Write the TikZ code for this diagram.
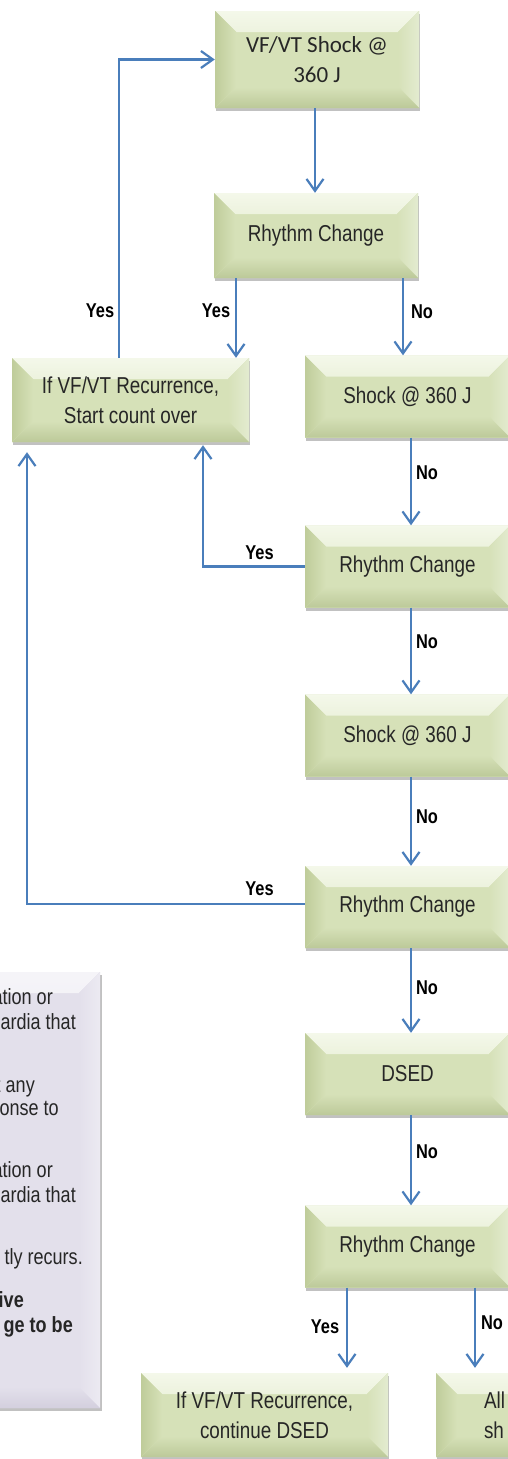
\documentclass[tikz,border=0pt]{standalone}
\usepackage{fontspec}
\newfontfamily\narrow[FakeStretch=0.82]{Liberation Sans}
\newfontfamily\calib{Carlito}
\usetikzlibrary{arrows.meta,shadows}
\definecolor{gmid}{HTML}{D6E1B8}
\definecolor{gtop}{HTML}{F4F8EA}
\definecolor{gleft}{HTML}{BFCC9A}
\definecolor{gbot}{HTML}{BCC999}
\definecolor{gright}{HTML}{E3EBD0}
\definecolor{lmid}{HTML}{E3E0EB}
\definecolor{ltop}{HTML}{F5F4F8}
\definecolor{lright}{HTML}{ECEAF2}
\definecolor{lbot}{HTML}{D3CFDE}
\definecolor{lleft}{HTML}{D6D2E0}
\definecolor{arrc}{HTML}{4A7EBB}
\newcommand\bevelpaint[5]{%
  \def\bw{21pt}%
  \fill[top color=#1,bottom color=#5] (path picture bounding box.north west) -- (path picture bounding box.north east) -- ([shift={(-\bw,-\bw)}]path picture bounding box.north east) -- ([shift={(\bw,-\bw)}]path picture bounding box.north west) -- cycle;
  \fill[left color=#5,right color=#2] (path picture bounding box.north east) -- (path picture bounding box.south east) -- ([shift={(-\bw,\bw)}]path picture bounding box.south east) -- ([shift={(-\bw,-\bw)}]path picture bounding box.north east) -- cycle;
  \fill[top color=#5,bottom color=#3] (path picture bounding box.south west) -- ([shift={(\bw,\bw)}]path picture bounding box.south west) -- ([shift={(-\bw,\bw)}]path picture bounding box.south east) -- (path picture bounding box.south east) -- cycle;
  \fill[left color=#4,right color=#5] (path picture bounding box.north west) -- ([shift={(\bw,-\bw)}]path picture bounding box.north west) -- ([shift={(\bw,\bw)}]path picture bounding box.south west) -- (path picture bounding box.south west) -- cycle;
}
\tikzset{
  gbox/.style={rectangle, inner sep=0pt, minimum width=205pt, minimum height=82pt,
    align=center, fill=gmid, text=black!85,
    font=\narrow\fontsize{23}{30}\selectfont,
    drop shadow={shadow xshift=0.5pt, shadow yshift=-3pt, opacity=0.4, fill=black!60},
    path picture={\bevelpaint{gtop}{gright}{gbot}{gleft}{gmid}}},
  nbox/.style={rectangle, inner sep=0pt, fill=lmid,
    drop shadow={shadow xshift=1.5pt, shadow yshift=-3pt, opacity=0.4, fill=black!60},
    path picture={\bevelpaint{ltop}{lright}{lbot}{lleft}{lmid}}},
  ntxt/.style={inner sep=0pt, text=black!85, font=\narrow\fontsize{22}{25}\selectfont},
  nbold/.style={ntxt, font=\narrow\bfseries\fontsize{22}{25}\selectfont},
  lbl/.style={inner sep=0pt, text=black, font=\narrow\bfseries\fontsize{20}{24}\selectfont},
  arr/.style={draw=arrc, line width=2.2pt, -{Straight Barb[length=12pt,width=17pt,line width=2.2pt]}},
}
\begin{document}
\begin{tikzpicture}[x=1pt,y=-1pt]
\useasboundingbox (0,0) rectangle (508,1459);
\clip (0,0) rectangle (508,1459);
\fill[white] (0,0) rectangle (508,1459);
% boxes
\node[gbox, font=\calib\fontsize{23}{30}\selectfont, minimum width=204pt, minimum height=97pt] (b1) at (317,59.5) {VF/VT Shock @\\360 J};
\node[gbox, minimum width=204pt, minimum height=85pt] (b2) at (316,235.5) {Rhythm Change};
\node[gbox, minimum width=237pt, minimum height=84pt] (rec) at (130.5,400) {If VF/VT Recurrence,\\Start count over};
\node[gbox] (s1) at (407.5,396.5) {Shock @ 360 J};
\node[gbox] (rc1) at (407.5,566.5) {Rhythm Change};
\node[gbox] (s2) at (407.5,735.5) {Shock @ 360 J};
\node[gbox] (rc2) at (407.5,907) {Rhythm Change};
\node[gbox] (dsed) at (407.5,1074) {DSED};
\node[gbox] (rc3) at (407.5,1246.5) {Rhythm Change};
\node[gbox, minimum width=247pt, minimum height=84pt] (cont) at (264.5,1415) {If VF/VT Recurrence,\\continue DSED};
\node[gbox, minimum width=247pt, minimum height=84pt, text width=151pt, align=left] (all) at (559.5,1415) {All\\sh};
% note box
\node[nbox, minimum width=260pt, minimum height=436pt] (note) at (-30,1190) {};
\node[ntxt, anchor=base east] (n1) at (53,1004) {ation or};
\node[ntxt, anchor=base east] (n2) at (76,1029) {ardia that};
\node[ntxt, anchor=base east] (n3) at (35,1092) {t any};
\node[ntxt, anchor=base east] (n4) at (59,1115) {onse to};
\node[ntxt, anchor=base east] (n5) at (53,1177) {ation or};
\node[ntxt, anchor=base east] (n6) at (76,1202) {ardia that};
\node[ntxt, anchor=base east] (n7) at (83,1264) {tly recurs.};
\node[nbold, anchor=base east] (n8) at (24,1307) {ive};
\node[nbold, anchor=base east] (n9) at (73,1332) {ge to be};
% helper x positions
\coordinate (xa) at (236,0);
\coordinate (xb) at (403,0);
\coordinate (xc) at (119,0);
\coordinate (xd) at (411,0);
\coordinate (xe) at (203,0);
\coordinate (xf) at (27,0);
\coordinate (xg) at (347,0);
\coordinate (xh) at (475,0);
\coordinate (x0) at (315,0);
% connectors
\draw[arr] (b1.south -| x0) -- (b2.north -| x0);
\draw[arr] (b2.south -| xa) -- (rec.north -| xa);
\draw[arr] (b2.south -| xb) -- (s1.north -| xb);
\draw[arr] (rec.north -| xc) |- (b1.west);
\draw[arr] (s1.south -| xd) -- (rc1.north -| xd);
\draw[arr, shorten >=3pt] (rc1.west) -| (rec.south -| xe);
\draw[arr] (rc1.south -| xd) -- (s2.north -| xd);
\draw[arr] (s2.south -| xd) -- (rc2.north -| xd);
\draw[arr, shorten >=10pt] ([yshift=3pt]rc2.west) -| (rec.south -| xf);
\draw[arr] (rc2.south -| xd) -- (dsed.north -| xd);
\draw[arr] (dsed.south -| xd) -- (rc3.north -| xd);
\draw[arr, shorten >=5pt] (rc3.south -| xg) -- (cont.north -| xg);
\draw[arr, shorten >=5pt] (rc3.south -| xh) -- (all.north -| xh);
% labels
\node[lbl] (l1) at (100,311) {Yes};
\node[lbl] (l2) at (216,311) {Yes};
\node[lbl] (l3) at (422,312) {No};
\node[lbl] (l4) at (427,473) {No};
\node[lbl] (l5) at (259.5,553) {Yes};
\node[lbl] (l6) at (427,642) {No};
\node[lbl] (l7) at (427,817) {No};
\node[lbl] (l8) at (259.5,889) {Yes};
\node[lbl] (l9) at (427,988) {No};
\node[lbl] (l10) at (427,1152) {No};
\node[lbl] (l11) at (325,1327) {Yes};
\node[lbl] (l12) at (492,1323) {No};
\end{tikzpicture}
\end{document}
